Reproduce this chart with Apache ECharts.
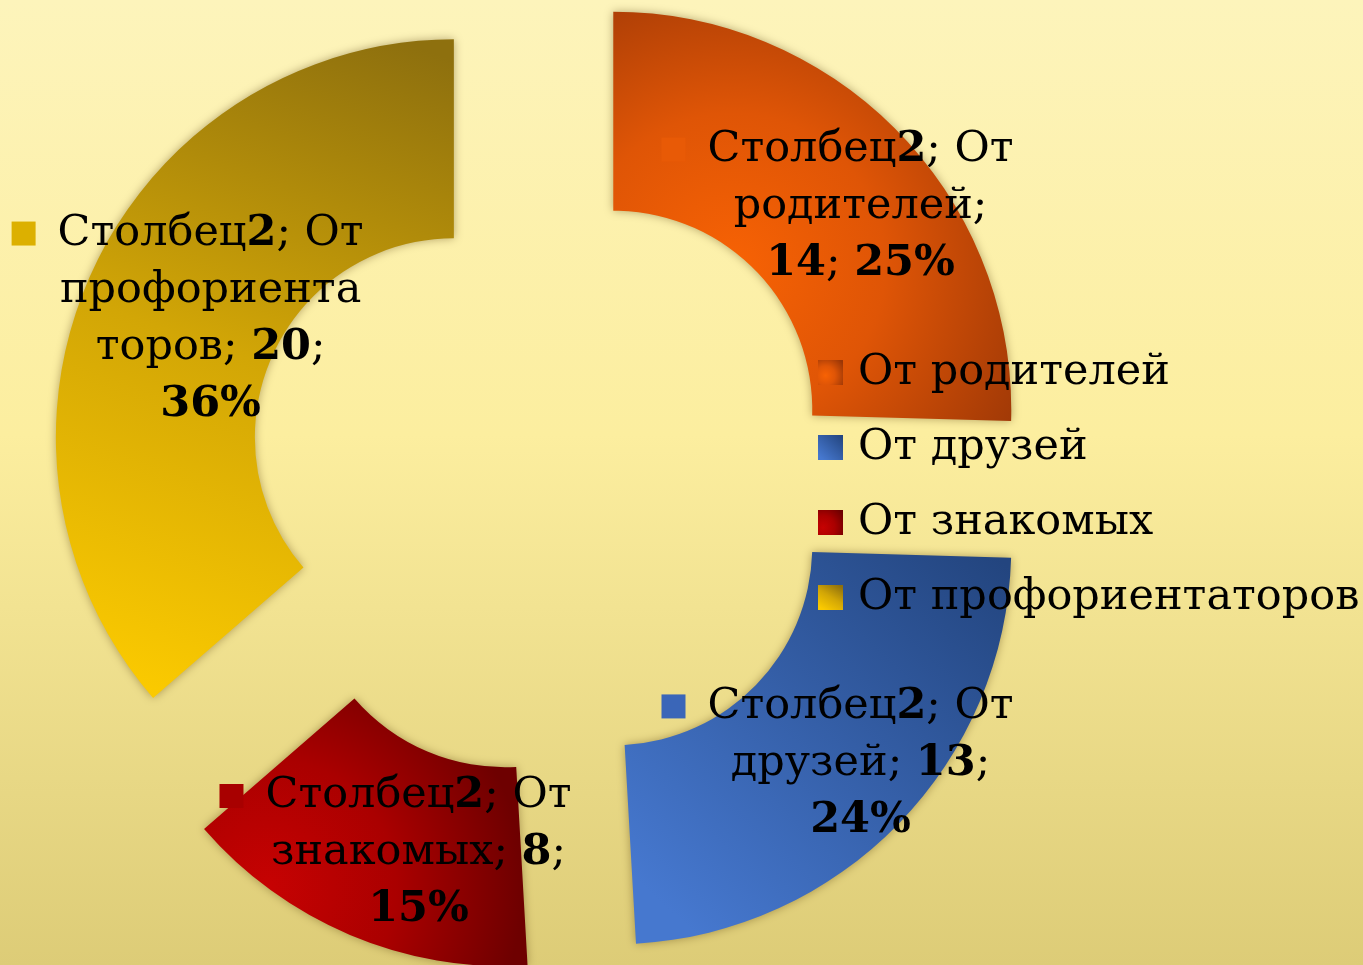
<!DOCTYPE html>
<html>
<head>
<meta charset="utf-8">
<script src="https://cdn.jsdelivr.net/npm/echarts@6/dist/echarts.min.js"></script>
<style>
	body{ margin:0; }
	#main{ width:1363px; height:965px; }
</style>
</head>
<body>
<div id="main"></div>
<script>
	// данные
	var seriesName = 'Столбец2';
	var categories = ['От родителей', 'От друзей', 'От знакомых', 'От профориентаторов'];
	var values = [14, 13, 8, 20];

	// заливки секторов
	var fills = [
		{type:'radial', x:0.3, y:0.62, r:0.85, colorStops:[{offset:0,color:'#f76204'},{offset:0.45,color:'#df5506'},{offset:1,color:'#9a3606'}]},
		{type:'linear', x:0.95, y:0, x2:0.1, y2:0.9, colorStops:[{offset:0,color:'#23457f'},{offset:1,color:'#4678cf'}]},
		{type:'radial', x:0.2, y:0.7, r:0.95, colorStops:[{offset:0,color:'#c60202'},{offset:0.5,color:'#aa0000'},{offset:1,color:'#6e0000'}]},
		{type:'linear', x:0.85, y:0, x2:0.25, y2:1, colorStops:[{offset:0,color:'#8e700e'},{offset:0.5,color:'#d2a606'},{offset:1,color:'#fbca00'}]}
	];
	var flat = ['#e85a06', '#3a66b8', '#a80000', '#dcb000'];

	var font = 'DejaVu Serif';

	function wrap(text, max){
		var words = text.split(' ');
		var lines = [], cur = '';
		words.forEach(function(w){
			while (w.length > max) {
				if (cur) { lines.push(cur); cur = ''; }
				lines.push(w.slice(0, max - 1));
				w = w.slice(max - 1);
			}
			if (!cur) cur = w;
			else if ((cur + ' ' + w).length <= max) cur += ' ' + w;
			else { lines.push(cur); cur = w; }
		});
		if (cur) lines.push(cur);
		return lines;
	}

	function richLine(s){
		return s.split(/(\d+%?)/).filter(function(t){ return t !== ''; }).map(function(t){
			return /^\d/.test(t) ? '{b|' + t + '}' : '{n|' + t + '}';
		}).join('');
	}

	var data = categories.map(function(c, i){
		return {
			name: c,
			value: values[i],
			selected: true,
			itemStyle: { color: fills[i] },
			label: {
				formatter: function(p){
					var lines = wrap(p.seriesName + '; ' + p.name + '; ' + p.value + '; ' + p.percent + '%', 12);
					return lines.map(function(l, k){
						return (k === 0 ? '{m' + i + '|}{g|}' : '{p|}') + richLine(l);
					}).join('\n');
				}
			}
		};
	});

	var rich = {
		n: { fontFamily: font, fontSize: 43, lineHeight: 57, color: '#000', align: 'center' },
		b: { fontFamily: font, fontSize: 43, lineHeight: 57, color: '#000', fontWeight: 'bold', align: 'center' },
		g: { width: 22, align: 'center' },
		p: { width: 46, align: 'center' }
	};
	flat.forEach(function(c, i){
		rich['m' + i] = { width: 24, height: 24, backgroundColor: c, align: 'center' };
	});

	var myChart = echarts.init(document.getElementById('main'));
	var option = {
		animation: false,
		backgroundColor: {type:'linear', x:0, y:0, x2:0, y2:1, colorStops:[
			{offset:0, color:'#fdf4bb'}, {offset:0.45, color:'#fcee9f'}, {offset:1, color:'#ddcc77'}
		]},
		legend: {
			orient: 'vertical',
			left: 818,
			top: 351,
			padding: 0,
			itemWidth: 25,
			itemHeight: 25,
			itemGap: 32,
			icon: 'rect',
			selectedMode: false,
			data: categories,
			textStyle: { fontFamily: font, fontSize: 43, lineHeight: 42, color: '#000', padding: [0, 0, 0, 10] }
		},
		series: [
			{
				name: seriesName,
				type: 'pie',
				center: [543, 478],
				radius: [199, 398],
				startAngle: 90,
				clockwise: true,
				percentPrecision: 0,
				minShowLabelAngle: 0,
				selectedMode: 'multiple',
				selectedOffset: 98,
				avoidLabelOverlap: false,
				emphasis: { disabled: true },
				itemStyle: { shadowBlur: 10, shadowColor: 'rgba(70,45,0,0.4)' },
				label: { show: true, position: 'inside', align: 'center', rich: rich },
				labelLine: { show: false },
				labelLayout: function(){
					return { hideOverlap: false, dx: 8, dy: 7 };
				},
				data: data
			}
		]
	};
	myChart.setOption(option);
</script>
</body>
</html>
